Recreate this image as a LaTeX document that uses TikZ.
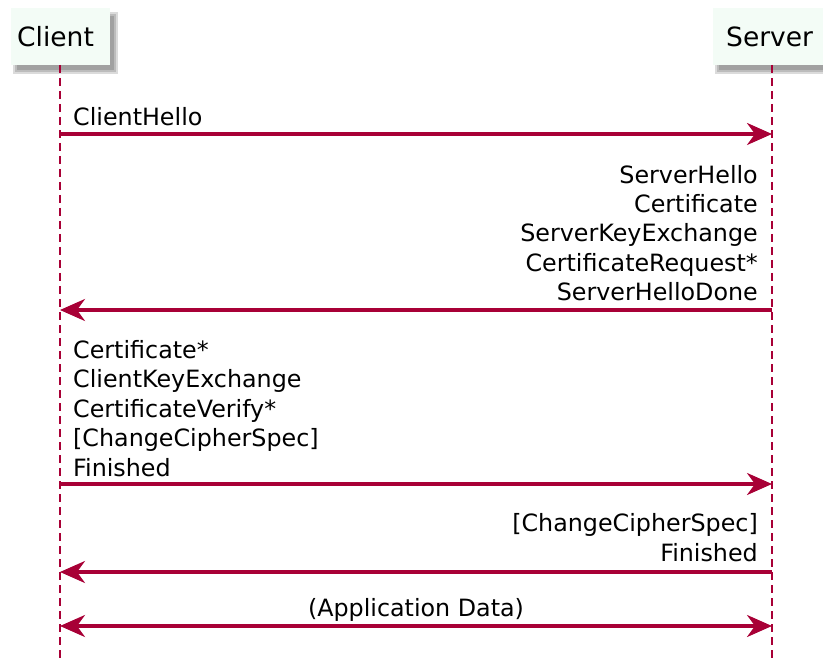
\documentclass[tikz,border=0pt]{standalone}
\usepackage{fontspec}
\setmainfont{DejaVu Sans}
\usetikzlibrary{arrows.meta}
\definecolor{umlred}{HTML}{A80036}
\definecolor{boxfill}{HTML}{F3FCF6}
\tikzset{
  x=1pt, y=-1pt,
  lifeline/.style={draw=umlred, line width=1.8pt, dash pattern=on 8pt off 5pt},
  msg/.style={draw=umlred, line width=3.2pt, -{Stealth[length=25pt,width=22pt,inset=8pt]}},
  msgboth/.style={draw=umlred, line width=3.2pt, {Stealth[length=25pt,width=22pt,inset=8pt]}-{Stealth[length=25pt,width=22pt,inset=8pt]}},
  lbl/.style={inner sep=0pt, font=\fontsize{23.8}{29.5}\selectfont},
  head/.style={inner sep=0pt, font=\fontsize{26.5}{30}\selectfont},
  shadowbox/.style={fill=black, opacity=0.14},
}
\begin{document}
\begin{tikzpicture}
\useasboundingbox (0,0) rectangle (823,658);
% participant boxes with soft shadows
\foreach \d in {0,2,4}{
  \fill[shadowbox] (17-\d,16-\d) rectangle (114+\d,70+\d);
  \fill[shadowbox] (719-\d,16-\d) rectangle (830+\d,70+\d);
}
\fill[boxfill] (11,8) rectangle (110,65);
\fill[boxfill] (713,8) rectangle (823,65);
\node[head, anchor=base west] (client) at (17,47) {Client};
\node[head, anchor=base west] (server) at (726,47) {Server};
% lifelines
\coordinate (ctop) at (60,65);
\coordinate (cbot) at (60,658);
\coordinate (stop) at (772,65);
\coordinate (sbot) at (772,658);
\draw[lifeline] (ctop) -- (cbot);
\draw[lifeline] (stop) -- (sbot);
% message anchor points
\foreach \n/\y in {1/134,2/310,3/484,4/572,5/626}{
  \coordinate (c\n) at (60,\y);
  \coordinate (s\n) at (772,\y);
}
\draw[msg] (c1) -- (s1);
\draw[msg] (s2) -- (c2);
\draw[msg] (c3) -- (s3);
\draw[msg] (s4) -- (c4);
\draw[msgboth] (c5) -- (s5);
% labels
\node[lbl, anchor=base west] (m1) at (73,126) {ClientHello};
\node[lbl, anchor=base east, align=right] (m2) at (758,301) {ServerHello\\Certificate\\ServerKeyExchange\\CertificateRequest*\\ServerHelloDone};
\node[lbl, anchor=base west, align=left] (m3) at (73,476) {Certificate*\\ClientKeyExchange\\CertificateVerify*\\{[ChangeCipherSpec]}\\Finished};
\node[lbl, anchor=base east, align=right] (m4) at (758,561) {{[ChangeCipherSpec]}\\Finished};
\node[lbl, anchor=base] (m5) at (416,616) {(Application Data)};
\end{tikzpicture}
\end{document}
